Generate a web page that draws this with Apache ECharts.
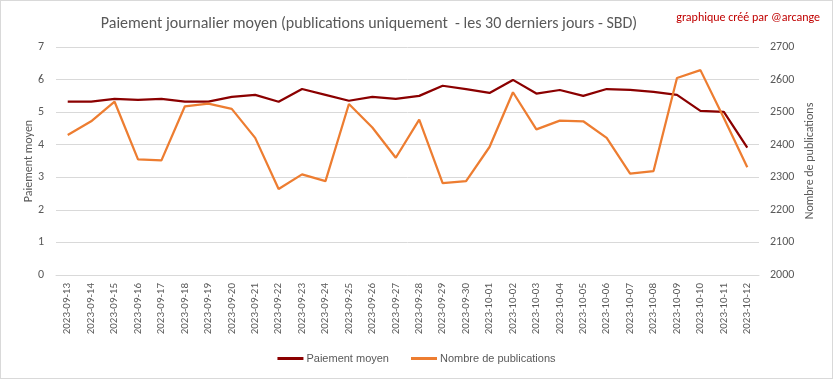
<!DOCTYPE html>
<html><head><meta charset="utf-8">
<script src="https://cdn.jsdelivr.net/npm/echarts@6/dist/echarts.min.js"></script>
<style>html,body{margin:0;padding:0;background:#fff}#c{width:831px;height:377px;border:1px solid #D9D9D9}</style>
</head><body><div id="c"></div>
<script>
const dates = ["2023-09-13","2023-09-14","2023-09-15","2023-09-16","2023-09-17","2023-09-18","2023-09-19","2023-09-20","2023-09-21","2023-09-22","2023-09-23","2023-09-24","2023-09-25","2023-09-26","2023-09-27","2023-09-28","2023-09-29","2023-09-30","2023-10-01","2023-10-02","2023-10-03","2023-10-04","2023-10-05","2023-10-06","2023-10-07","2023-10-08","2023-10-09","2023-10-10","2023-10-11","2023-10-12"];
const paiementMoyen = [5.32,5.32,5.41,5.38,5.41,5.32,5.32,5.47,5.53,5.32,5.71,5.53,5.35,5.47,5.41,5.50,5.81,5.71,5.59,5.99,5.57,5.68,5.50,5.71,5.68,5.62,5.53,5.04,5.01,3.91];
const nombrePublications = [2430,2472,2532,2355,2352,2518,2526,2510,2421,2264,2309,2288,2525,2453,2360,2477,2282,2288,2393,2561,2447,2474,2472,2421,2311,2319,2605,2629,2482,2331];
const leftTicks = {min:0,max:7,interval:1};
const rightTicks = {min:2000,max:2700,interval:100};
const font = "Carlito, 'Liberation Sans Narrow', 'Open Sans', sans-serif";
const legendFont = "'Liberation Sans', sans-serif";
const txt = '#595959';
const chart = echarts.init(document.getElementById('c'));
chart.setOption({
  animation:false,
  textStyle:{fontFamily:font},
  title:[
    {text:'Paiement journalier moyen (publications uniquement  - les 30 derniers jours - SBD)',left:363,top:10,textAlign:'center',textStyle:{fontFamily:font,fontSize:16,fontWeight:'normal',color:txt}},
    {text:'graphique créé par @arcange',right:7,top:6,textStyle:{fontFamily:font,fontSize:12,fontWeight:'normal',color:'#C00000'}}
  ],
  legend:{bottom:9,left:'center',itemGap:22,itemWidth:26,itemHeight:3,icon:'rect',textStyle:{fontFamily:legendFont,fontSize:11,color:txt,padding:[0,0,0,-2]},
    data:[{name:'Paiement moyen'},{name:'Nombre de publications'}]},
  grid:{left:55,right:73,top:46,bottom:103},
  xAxis:{type:'category',data:dates,boundaryGap:true,
    axisLine:{lineStyle:{color:'#D9D9D9'}},axisTick:{show:false},
    axisLabel:{rotate:90,fontSize:11,color:txt,fontFamily:font,interval:0,margin:8}},
  yAxis:[
    {type:'value',min:leftTicks.min,max:leftTicks.max,interval:leftTicks.interval,name:'Paiement moyen',nameLocation:'middle',nameGap:21,nameMoveOverlap:false,
      nameTextStyle:{fontFamily:font,fontSize:12,color:txt},
      axisLabel:{fontSize:12,color:txt,fontFamily:font,margin:12},axisLine:{show:false},axisTick:{show:false},
      splitLine:{lineStyle:{color:'#D9D9D9'}}},
    {type:'value',min:rightTicks.min,max:rightTicks.max,interval:rightTicks.interval,name:'Nombre de publications',nameLocation:'middle',nameGap:45,nameMoveOverlap:false,
      nameTextStyle:{fontFamily:font,fontSize:12,color:txt},
      axisLabel:{fontSize:12,color:txt,fontFamily:font,margin:11,formatter:v=>String(v)},axisLine:{show:false},axisTick:{show:false},splitLine:{show:false}}
  ],
  series:[
    {name:'Paiement moyen',type:'line',yAxisIndex:0,data:paiementMoyen,symbol:'none',lineStyle:{color:'#8B0000',width:2.25},itemStyle:{color:'#8B0000'}},
    {name:'Nombre de publications',type:'line',yAxisIndex:1,data:nombrePublications,symbol:'none',lineStyle:{color:'#ED7D31',width:2.25},itemStyle:{color:'#ED7D31'}}
  ]
});
</script></body></html>
